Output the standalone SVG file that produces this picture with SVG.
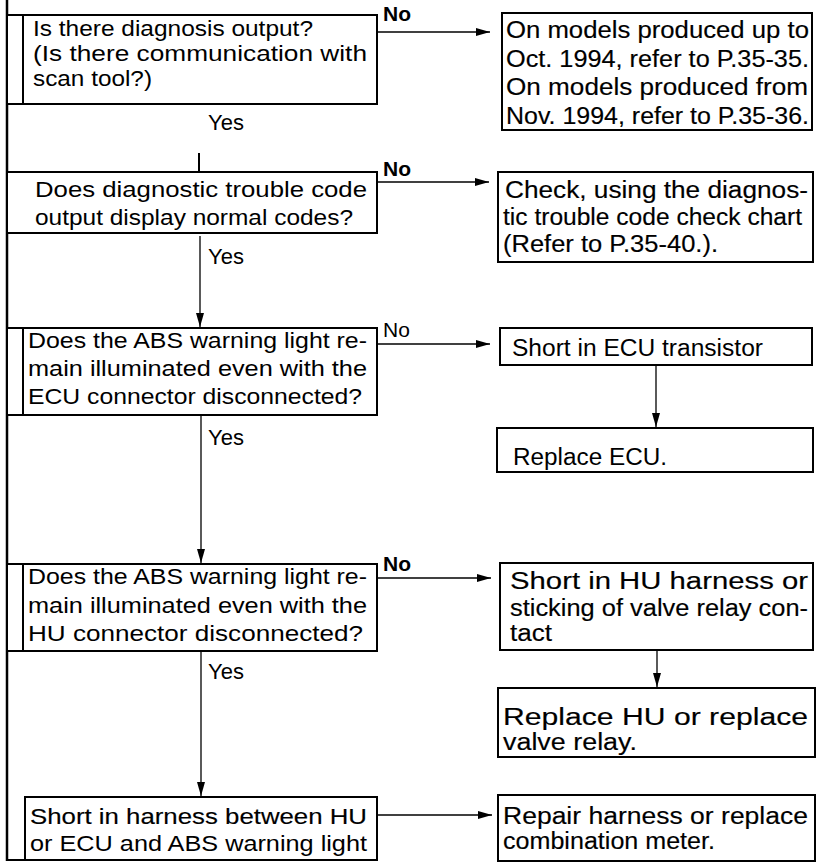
<svg xmlns="http://www.w3.org/2000/svg" width="817" height="863" viewBox="0 0 817 863">
<style>
.bx{fill:#fff;stroke:#000;stroke-width:2}
.ln{stroke:#000;stroke-width:2;fill:none}
.cn{stroke:#000;stroke-width:1.3;fill:none}
.t{font-family:"Liberation Sans",Arial,sans-serif;font-size:22px;fill:#000}
.r{font-family:"Liberation Sans",Arial,sans-serif;font-size:23px;fill:#000}
.h{stroke:#000;stroke-width:0.15}
.no{font-family:"Liberation Sans",Arial,sans-serif;font-size:21px;font-weight:bold;fill:#000}
.no2{font-family:"Liberation Sans",Arial,sans-serif;font-size:21px;fill:#000}
</style>
<defs>
<marker id="ah" markerUnits="userSpaceOnUse" markerWidth="14" markerHeight="8" refX="14" refY="4" orient="auto">
<path d="M0,0 L14,4 L0,8 z" fill="#000"/>
</marker>
</defs>
<rect width="817" height="863" fill="#fff"/>

<g id="frame">
<line class="ln" x1="7" y1="0" x2="7" y2="861" style="stroke-width:2.5"/>
</g>

<g id="q1">
<rect class="bx" x="7" y="15" width="370" height="89"/>
<line class="ln" x1="23" y1="15" x2="23" y2="104"/>
<text class="t" x="33" y="36" textLength="280" lengthAdjust="spacingAndGlyphs">Is there diagnosis output?</text>
<text class="t" x="33" y="61" textLength="334" lengthAdjust="spacingAndGlyphs">(Is there communication with</text>
<text class="t" x="33" y="86" textLength="119" lengthAdjust="spacingAndGlyphs">scan tool?)</text>
</g>

<g id="q2">
<rect class="bx" x="7" y="172" width="370" height="61"/>
<text class="t" x="35" y="197" textLength="332" lengthAdjust="spacingAndGlyphs">Does diagnostic trouble code</text>
<text class="t" x="35" y="225" textLength="318" lengthAdjust="spacingAndGlyphs">output display normal codes?</text>
</g>

<g id="q3">
<rect class="bx" x="7" y="328" width="370" height="87"/>
<line class="ln" x1="23" y1="328" x2="23" y2="415"/>
<text class="t" x="28" y="348" textLength="339" lengthAdjust="spacingAndGlyphs">Does the ABS warning light re-</text>
<text class="t" x="28" y="376" textLength="339" lengthAdjust="spacingAndGlyphs">main illuminated even with the</text>
<text class="t" x="28" y="404" textLength="334" lengthAdjust="spacingAndGlyphs">ECU  connector  disconnected?</text>
</g>

<g id="q4">
<rect class="bx" x="7" y="564" width="370" height="87"/>
<line class="ln" x1="23" y1="564" x2="23" y2="651"/>
<text class="t" x="28" y="584" textLength="339" lengthAdjust="spacingAndGlyphs">Does the ABS warning light re-</text>
<text class="t" x="28" y="613" textLength="339" lengthAdjust="spacingAndGlyphs">main illuminated even with the</text>
<text class="t" x="28" y="641" textLength="335" lengthAdjust="spacingAndGlyphs">HU  connector  disconnected?</text>
</g>

<g id="q5">
<rect class="bx" x="25" y="797" width="352" height="63"/>
<line class="ln" x1="7" y1="860" x2="25" y2="860"/>
<text class="t h" x="30" y="824" textLength="337" lengthAdjust="spacingAndGlyphs">Short in harness between HU</text>
<text class="t" x="30" y="851" textLength="337" lengthAdjust="spacingAndGlyphs">or ECU and ABS warning light</text>
</g>

<g id="a1">
<rect class="bx" x="502" y="13" width="310" height="117"/>
<text class="r h" x="506" y="38" textLength="303" lengthAdjust="spacingAndGlyphs">On models produced up to</text>
<text class="r h" x="506" y="67" textLength="303" lengthAdjust="spacingAndGlyphs">Oct. 1994, refer to P.35-35.</text>
<text class="r h" x="506" y="95" textLength="302" lengthAdjust="spacingAndGlyphs">On models produced from</text>
<text class="r h" x="506" y="124" textLength="303" lengthAdjust="spacingAndGlyphs">Nov. 1994, refer to P.35-36.</text>
</g>

<g id="a2">
<rect class="bx" x="498" y="172" width="315" height="90"/>
<text class="r h" x="505" y="198" textLength="303" lengthAdjust="spacingAndGlyphs">Check, using the diagnos-</text>
<text class="r h" x="503" y="225" textLength="299" lengthAdjust="spacingAndGlyphs">tic trouble code check chart</text>
<text class="r h" x="503" y="252" textLength="215" lengthAdjust="spacingAndGlyphs">(Refer to P.35-40.).</text>
</g>

<g id="a3">
<rect class="bx" x="500" y="328" width="312" height="37"/>
<text class="r" x="512" y="356" textLength="251" lengthAdjust="spacingAndGlyphs">Short in ECU transistor</text>
</g>

<g id="a4">
<rect class="bx" x="497" y="428" width="316" height="44"/>
<text class="r" x="513" y="465" textLength="154" lengthAdjust="spacingAndGlyphs">Replace  ECU.</text>
</g>

<g id="a5">
<rect class="bx" x="500" y="563" width="313" height="87"/>
<text class="r h" x="510" y="589" textLength="298" lengthAdjust="spacingAndGlyphs">Short  in  HU  harness  or</text>
<text class="r h" x="510" y="616" textLength="298" lengthAdjust="spacingAndGlyphs">sticking of valve relay con-</text>
<text class="r h" x="510" y="641" textLength="42" lengthAdjust="spacingAndGlyphs">tact</text>
</g>

<g id="a6">
<rect class="bx" x="498" y="688" width="317" height="69"/>
<text class="r h" x="503" y="725" textLength="305" lengthAdjust="spacingAndGlyphs">Replace  HU  or  replace</text>
<text class="r h" x="503" y="750" textLength="134" lengthAdjust="spacingAndGlyphs">valve relay.</text>
</g>

<g id="a7">
<rect class="bx" x="498" y="795" width="317" height="66"/>
<text class="r h" x="503" y="824" textLength="305" lengthAdjust="spacingAndGlyphs">Repair harness or replace</text>
<text class="r h" x="503" y="849" textLength="212" lengthAdjust="spacingAndGlyphs">combination meter.</text>
</g>

<g id="connectors">
<line class="cn" x1="377" y1="32" x2="490" y2="32" marker-end="url(#ah)"/>
<line class="cn" x1="377" y1="182" x2="489" y2="182" marker-end="url(#ah)"/>
<line class="cn" x1="377" y1="344" x2="490" y2="344" marker-end="url(#ah)"/>
<line class="cn" x1="377" y1="578" x2="491" y2="578" marker-end="url(#ah)"/>
<line class="cn" x1="377" y1="815" x2="492" y2="815" marker-end="url(#ah)"/>
<line class="ln" x1="199" y1="153" x2="199" y2="171"/>
<line class="cn" x1="200" y1="236" x2="200" y2="327" marker-end="url(#ah)"/>
<line class="cn" x1="201" y1="415" x2="201" y2="563" marker-end="url(#ah)"/>
<line class="cn" x1="201" y1="651" x2="201" y2="796" marker-end="url(#ah)"/>
<line class="cn" x1="656" y1="365" x2="656" y2="427" marker-end="url(#ah)"/>
<line class="cn" x1="657" y1="650" x2="657" y2="687" marker-end="url(#ah)"/>
<text class="no" x="383" y="21">No</text>
<text class="no" x="383" y="176">No</text>
<text class="no2" x="383" y="337">No</text>
<text class="no" x="383" y="571">No</text>
<text class="t" x="208" y="130">Yes</text>
<text class="t" x="208" y="264">Yes</text>
<text class="t" x="208" y="445">Yes</text>
<text class="t" x="208" y="679">Yes</text>
</g>
</svg>
